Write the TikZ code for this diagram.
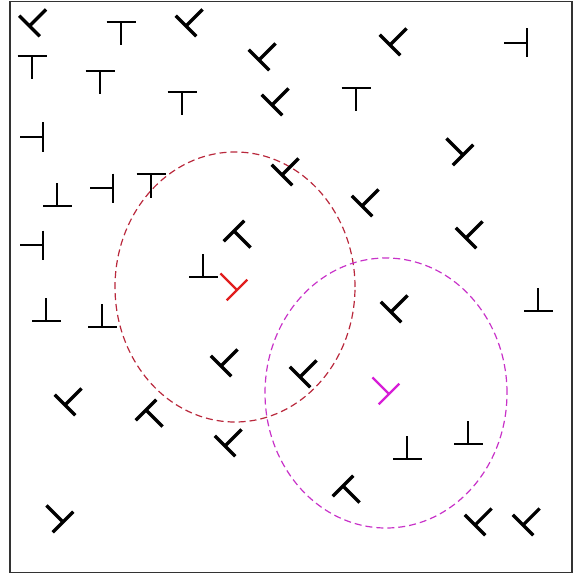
\documentclass[tikz,border=0pt]{standalone}
\usetikzlibrary{calc}
\definecolor{ringred}{RGB}{185,40,60}
\definecolor{ringmag}{RGB}{200,50,200}
\definecolor{glyphred}{RGB}{225,30,30}
\definecolor{glyphmag}{RGB}{215,30,215}
\tikzset{
  tee/.pic={\draw (-14.5,0) -- (14.5,0) (0,0) -- (0,-23.5);},
  thinT/.style={line width=1.6pt, black},
  thickT/.style={line width=3.2pt, black},
  redT/.style={line width=2.4pt, glyphred},
  magT/.style={line width=2.4pt, glyphmag},
  ring/.style={line width=1.2pt, dash pattern=on 7pt off 4pt},
  frame/.style={line width=1.6pt, black!80}
}
\begin{document}
\begin{tikzpicture}[x=1pt,y=1pt]
\useasboundingbox (0,0) rectangle (574,-575);
\draw[frame] (10,-1.5) rectangle (572,-572.5);
% dashed rings
\draw[ring, ringred] (235,-287) ellipse [x radius=120, y radius=135];
\draw[ring, ringmag] (386,-393) ellipse [x radius=121, y radius=135];
% thin glyphs: stem down
\foreach \x/\y in {121/22, 32/56, 100/71, 182/92, 151/174, 356/88}
  \pic[thinT] at (\x,-\y) {tee};
% thin glyphs: stem left
\foreach \x/\y in {43/137, 113/188, 527/43, 43/245}
  \pic[thinT, rotate=-90] at (\x,-\y) {tee};
% thin glyphs: stem up
\foreach \x/\y in {57/206, 203/277, 46/321, 102/327, 538/311, 407/459, 468/444}
  \pic[thinT, rotate=180] at (\x,-\y) {tee};
% thick glyphs: stem up-right
\foreach \x/\y in {29.5/26, 186/26, 259/60, 390/45, 272/105, 282/175, 362/206, 221/366, 300/377, 225/446, 466/238, 391/312, 65/405, 475/525, 523/525}
  \pic[thickT, rotate=135] at (\x,-\y) {tee};
% thick glyphs: stem up-left
\foreach \x/\y in {463/155, 63/522}
  \pic[thickT, rotate=-135] at (\x,-\y) {tee};
% thick glyphs: stem down-right
\foreach \x/\y in {234/231, 146/410, 343/486}
  \pic[thickT, rotate=45] at (\x,-\y) {tee};
% coloured glyphs at the ring centres
\pic[redT, rotate=-135] at (237,-290) {tee};
\pic[magT, rotate=-135] at (389,-394) {tee};
\end{tikzpicture}
\end{document}
